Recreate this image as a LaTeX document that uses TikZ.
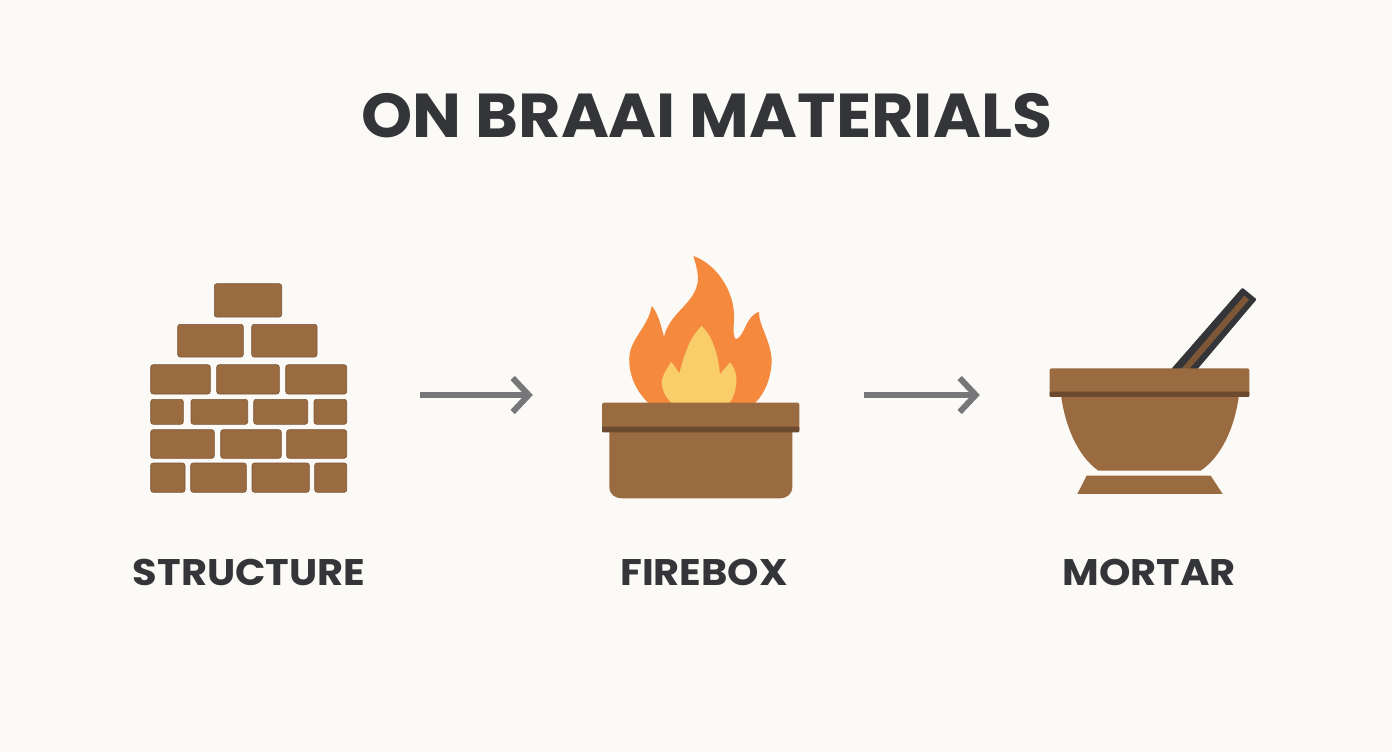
\documentclass[tikz,border=0pt]{standalone}
\usepackage{fontspec}
\setmainfont{Poppins}
\newfontfamily\titlefont[FakeStretch=1.05]{Poppins Bold}
\newfontfamily\capfont[FakeStretch=1.08]{Poppins Bold}
\usetikzlibrary{arrows.meta}
\definecolor{bgc}{HTML}{FBFAF6}
\definecolor{brownc}{HTML}{9A6B40}
\definecolor{darkb}{HTML}{6B4A30}
\definecolor{orangec}{HTML}{F58A3E}
\definecolor{yellowc}{HTML}{F9CE6A}
\definecolor{inkc}{HTML}{333538}
\definecolor{arrowc}{HTML}{77777A}
\tikzset{
  brick/.style={fill=brownc,draw=darkb!70!brownc,line width=0.6pt,rounded corners=2.5pt},
  iconbox/.style={draw=none,inner sep=0pt,minimum height=60pt},
  caption/.style={text=inkc,font=\fontsize{37}{37}\capfont,inner sep=0pt,anchor=base},
  flow/.style={draw=arrowc,line width=6pt,-{Straight Barb[length=16pt,width=34pt,line width=6pt]}},
}
\newcommand{\brk}[4]{\path[brick] (#1,#3) rectangle (#2,#4);}
\begin{document}
\begin{tikzpicture}[x=1pt,y=-1pt]
\useasboundingbox (0,0) rectangle (1392,752);
\fill[bgc] (0,0) rectangle (1392,752);
\node[text=inkc,font=\fontsize{62}{62}\titlefont,inner sep=0pt,anchor=base] (title) at (707,137) {ON BRAAI MATERIALS};
% bricks
\brk{214.3}{281.7}{283.7}{317}
\brk{177.7}{243.3}{324.3}{357}\brk{251.7}{317}{324.3}{357}
\brk{150.7}{210.3}{364.7}{394}\brk{216.7}{279.3}{364.7}{394}\brk{285.7}{346.7}{364.7}{394}
\brk{150.7}{183.3}{399.3}{424.3}\brk{191}{247.7}{399.3}{424.3}\brk{253.7}{307.7}{399.3}{424.3}\brk{314}{346.7}{399.3}{424.3}
\brk{150.7}{214.3}{429.7}{458.3}\brk{220.7}{281.3}{429.7}{458.3}\brk{286.7}{346.7}{429.7}{458.3}
\brk{150.7}{185}{463}{492.3}\brk{190.7}{246.3}{463}{492.3}\brk{252}{309.3}{463}{492.3}\brk{314.7}{346.7}{463}{492.3}
% firebox, in zoom coordinates
\begin{scope}[shift={(590,245)},x=0.3333pt,y=-0.3333pt]
\fill[orangec] (175,474) .. controls (135,435) and (115,385) .. (118,335)
  .. controls (122,280) and (175,245) .. (185,183)
  .. controls (205,205) and (212,240) .. (222,275)
  .. controls (240,205) and (300,185) .. (320,125)
  .. controls (330,95) and (318,60) .. (310,33)
  .. controls (375,55) and (428,130) .. (432,205)
  .. controls (434,235) and (425,265) .. (437,283)
  .. controls (465,275) and (465,215) .. (507,200)
  .. controls (505,240) and (545,290) .. (545,350)
  .. controls (543,400) and (525,445) .. (495,474) -- cycle;
\fill[yellowc] (245,474) .. controls (225,455) and (213,430) .. (216,405)
  .. controls (220,385) and (235,365) .. (243,351)
  .. controls (253,360) and (260,375) .. (268,385)
  .. controls (282,330) and (300,275) .. (335,243)
  .. controls (370,275) and (385,335) .. (390,388)
  .. controls (400,375) and (412,362) .. (420,352)
  .. controls (435,370) and (442,395) .. (439,415)
  .. controls (436,440) and (430,460) .. (418,474) -- cycle;
\fill[brownc] (58,555) -- (607,555) -- (607,725) .. controls (607,748) and (590,760) .. (570,760)
  -- (95,760) .. controls (75,760) and (58,748) .. (58,725) -- cycle;
\fill[brownc,rounded corners=2pt] (36,473) rectangle (628,560);
\fill[darkb,rounded corners=1pt] (36,545) rectangle (628,562);
\end{scope}
% mortar, in zoom coordinates
\begin{scope}[shift={(1035,280)},x=0.3333pt,y=-0.3333pt]
\fill[inkc,rounded corners=1pt] (408,268) -- (622,23) -- (665,58) -- (487,268) -- cycle;
\fill[darkb!60!brownc] (438,268) -- (628,47) -- (642,59) -- (462,268) -- cycle;
\fill[brownc] (78,345) -- (612,345) .. controls (600,440) and (560,530) .. (497,572) -- (190,572)
  .. controls (130,530) and (90,440) .. (78,345) -- cycle;
\fill[brownc,rounded corners=2pt] (44,265) rectangle (643,350);
\fill[darkb,rounded corners=1pt] (44,335) rectangle (643,351);
\fill[brownc] (127,642) -- (563,642) -- (527,587) -- (155,587) -- cycle;
\end{scope}
% invisible icon extents, for the connectors
\node[iconbox,minimum width=196pt] (structure) at (248.7,395) {};
\node[iconbox,minimum width=197pt] (firebox) at (700.5,395) {};
\node[iconbox,minimum width=200pt] (mortar) at (1150,395) {};
\draw[flow,shorten <=73pt,shorten >=69pt] (structure) -- (firebox);
\draw[flow,shorten <=65pt,shorten >=70pt] (firebox) -- (mortar);
\node[caption] (l1) at (249,585) {STRUCTURE};
\node[caption] (l2) at (704,585) {FIREBOX};
\node[caption] (l3) at (1149,585) {MORTAR};
\end{tikzpicture}
\end{document}
